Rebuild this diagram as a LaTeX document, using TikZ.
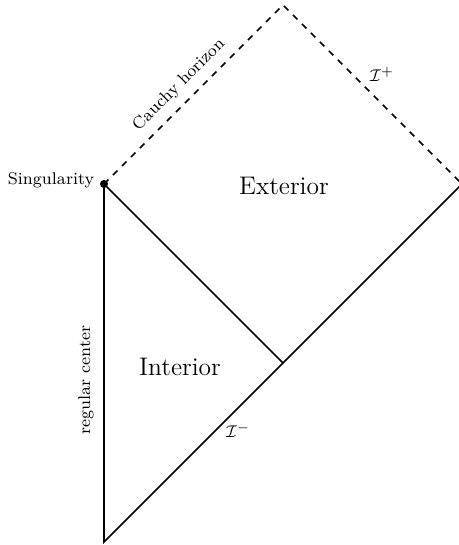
\documentclass[tikz,border=0pt]{standalone}
\begin{document}
\begin{tikzpicture}[x=0.4717pt,y=-0.4717pt,
  edge/.style={line width=0.8pt},
  horizon/.style={line width=0.8pt,dashed},
  lbl/.style={font=\footnotesize,inner sep=1pt},
  region/.style={font=\large,inner sep=1pt}]
\useasboundingbox (0,0) rectangle (458,545);
\coordinate (bot) at (104,542);
\coordinate (sing) at (104,184);
\coordinate (mid) at (283,363);
\coordinate (top) at (283,5);
\coordinate (right) at (462,184);
\draw[edge] (sing) -- (bot) -- (right);
\draw[edge] (sing) -- (mid);
\draw[horizon] (sing) -- (top) -- (right);
\fill (sing) circle[radius=1.9pt];
\node[lbl] (singlbl) at (51,180) {Singularity};
\node[lbl,rotate=45] (cauchy) at (179,85) {Cauchy horizon};
\node[lbl] (scriplus) at (382,74) {$\mathcal{I}^{+}$};
\node[lbl] (scriminus) at (238,430) {$\mathcal{I}^{-}$};
\node[lbl,rotate=90] (center) at (86,380) {regular center};
\node[region] (ext) at (284,186) {Exterior};
\node[region] (int) at (180,367) {Interior};
\end{tikzpicture}
\end{document}
